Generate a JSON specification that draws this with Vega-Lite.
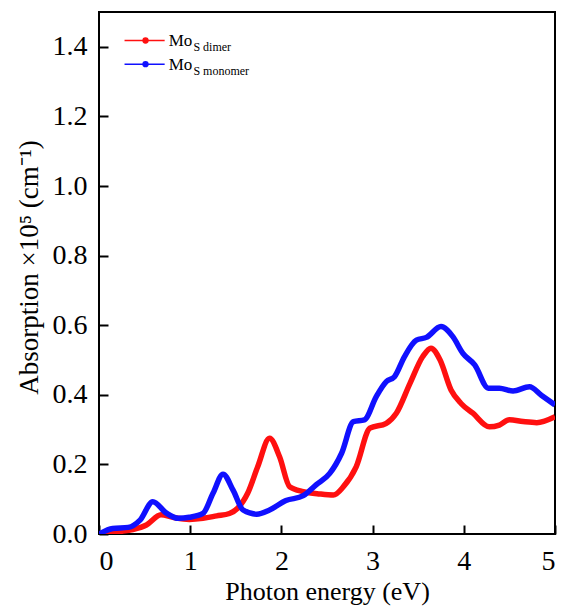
{
  "$schema": "https://vega.github.io/schema/vega-lite/v6.json",
  "autosize": "none",
  "width": 456,
  "height": 522,
  "padding": {"left": 99, "top": 12, "right": 9, "bottom": 73},
  "background": "white",
  "config": {
    "view": {"stroke": "black", "strokeWidth": 2},
    "font": "Liberation Serif",
    "axis": {
      "grid": false,
      "domain": false,
      "ticks": true,
      "tickColor": "black",
      "tickWidth": 2,
      "tickSize": -9,
      "labelFont": "Liberation Serif",
      "labelFontSize": 28,
      "labelColor": "black",
      "titleFont": "Liberation Serif",
      "titleFontWeight": "normal",
      "titleColor": "black"
    }
  },
  "datasets": {
    "curves": [
      {"e": 0.0, "a": 0.0, "s": "dimer"},
      {"e": 0.23, "a": 0.007, "s": "dimer"},
      {"e": 0.37, "a": 0.013, "s": "dimer"},
      {"e": 0.52, "a": 0.026, "s": "dimer"},
      {"e": 0.68, "a": 0.055, "s": "dimer"},
      {"e": 0.81, "a": 0.048, "s": "dimer"},
      {"e": 0.99, "a": 0.042, "s": "dimer"},
      {"e": 1.14, "a": 0.045, "s": "dimer"},
      {"e": 1.29, "a": 0.052, "s": "dimer"},
      {"e": 1.43, "a": 0.059, "s": "dimer"},
      {"e": 1.52, "a": 0.074, "s": "dimer"},
      {"e": 1.63, "a": 0.117, "s": "dimer"},
      {"e": 1.74, "a": 0.193, "s": "dimer"},
      {"e": 1.87, "a": 0.275, "s": "dimer"},
      {"e": 1.98, "a": 0.222, "s": "dimer"},
      {"e": 2.09, "a": 0.136, "s": "dimer"},
      {"e": 2.24, "a": 0.122, "s": "dimer"},
      {"e": 2.42, "a": 0.115, "s": "dimer"},
      {"e": 2.57, "a": 0.112, "s": "dimer"},
      {"e": 2.68, "a": 0.136, "s": "dimer"},
      {"e": 2.82, "a": 0.193, "s": "dimer"},
      {"e": 2.97, "a": 0.304, "s": "dimer"},
      {"e": 3.15, "a": 0.318, "s": "dimer"},
      {"e": 3.26, "a": 0.347, "s": "dimer"},
      {"e": 3.41, "a": 0.433, "s": "dimer"},
      {"e": 3.55, "a": 0.51, "s": "dimer"},
      {"e": 3.64, "a": 0.534, "s": "dimer"},
      {"e": 3.74, "a": 0.5, "s": "dimer"},
      {"e": 3.86, "a": 0.414, "s": "dimer"},
      {"e": 3.97, "a": 0.375, "s": "dimer"},
      {"e": 4.1, "a": 0.347, "s": "dimer"},
      {"e": 4.28, "a": 0.308, "s": "dimer"},
      {"e": 4.39, "a": 0.313, "s": "dimer"},
      {"e": 4.5, "a": 0.328, "s": "dimer"},
      {"e": 4.65, "a": 0.323, "s": "dimer"},
      {"e": 4.8, "a": 0.32, "s": "dimer"},
      {"e": 5.0, "a": 0.337, "s": "dimer"},
      {"e": 0.0, "a": 0.0, "s": "monomer"},
      {"e": 0.15, "a": 0.016, "s": "monomer"},
      {"e": 0.32, "a": 0.019, "s": "monomer"},
      {"e": 0.45, "a": 0.04, "s": "monomer"},
      {"e": 0.59, "a": 0.093, "s": "monomer"},
      {"e": 0.74, "a": 0.06, "s": "monomer"},
      {"e": 0.87, "a": 0.045, "s": "monomer"},
      {"e": 0.99, "a": 0.048, "s": "monomer"},
      {"e": 1.14, "a": 0.059, "s": "monomer"},
      {"e": 1.25, "a": 0.117, "s": "monomer"},
      {"e": 1.36, "a": 0.172, "s": "monomer"},
      {"e": 1.47, "a": 0.126, "s": "monomer"},
      {"e": 1.58, "a": 0.069, "s": "monomer"},
      {"e": 1.73, "a": 0.057, "s": "monomer"},
      {"e": 1.87, "a": 0.069, "s": "monomer"},
      {"e": 2.05, "a": 0.096, "s": "monomer"},
      {"e": 2.24, "a": 0.11, "s": "monomer"},
      {"e": 2.38, "a": 0.141, "s": "monomer"},
      {"e": 2.53, "a": 0.174, "s": "monomer"},
      {"e": 2.66, "a": 0.232, "s": "monomer"},
      {"e": 2.79, "a": 0.323, "s": "monomer"},
      {"e": 2.91, "a": 0.328, "s": "monomer"},
      {"e": 3.04, "a": 0.395, "s": "monomer"},
      {"e": 3.15, "a": 0.438, "s": "monomer"},
      {"e": 3.24, "a": 0.452, "s": "monomer"},
      {"e": 3.35, "a": 0.51, "s": "monomer"},
      {"e": 3.48, "a": 0.557, "s": "monomer"},
      {"e": 3.59, "a": 0.565, "s": "monomer"},
      {"e": 3.75, "a": 0.596, "s": "monomer"},
      {"e": 3.88, "a": 0.567, "s": "monomer"},
      {"e": 3.99, "a": 0.519, "s": "monomer"},
      {"e": 4.12, "a": 0.486, "s": "monomer"},
      {"e": 4.27, "a": 0.419, "s": "monomer"},
      {"e": 4.39, "a": 0.419, "s": "monomer"},
      {"e": 4.54, "a": 0.411, "s": "monomer"},
      {"e": 4.72, "a": 0.423, "s": "monomer"},
      {"e": 4.85, "a": 0.399, "s": "monomer"},
      {"e": 5.0, "a": 0.371, "s": "monomer"}
    ],
    "legend": [
      {"s": "dimer", "x1": 0.28, "x2": 0.72, "xm": 0.51, "y": 1.418, "xt": 0.764, "ys": 1.403, "sub": "S dimer", "xs": 1.035, "yb": 1.388},
      {"s": "monomer", "x1": 0.28, "x2": 0.72, "xm": 0.51, "y": 1.35, "xt": 0.764, "ys": 1.333, "sub": "S monomer", "xs": 1.035, "yb": 1.319}
    ]
  },
  "layer": [
    {
      "data": {"name": "curves"},
      "mark": {"type": "line", "strokeWidth": 5.5, "interpolate": "monotone", "clip": true},
      "encoding": {
        "x": {
          "field": "e", "type": "quantitative",
          "scale": {"domain": [0, 5], "nice": false},
          "axis": {"values": [0, 1, 2, 3, 4, 5], "format": "d", "title": "Photon energy (eV)", "labelFont": "Liberation Serif", "labelFontSize": 28, "titleFont": "Liberation Serif", "titleFontSize": 26, "labelPadding": 22, "titlePadding": 3}
        },
        "y": {
          "field": "a", "type": "quantitative",
          "scale": {"domain": [0, 1.5], "nice": false},
          "axis": {"values": [0, 0.2, 0.4, 0.6, 0.8, 1.0, 1.2, 1.4], "format": ".1f", "title": "Absorption ×10⁵ (cm⁻¹)", "labelFont": "Liberation Serif", "labelFontSize": 28, "titleFont": "Liberation Serif", "titleFontSize": 27, "labelPadding": 21, "titlePadding": 9, "titleY": 255}
        },
        "color": {
          "field": "s", "type": "nominal",
          "scale": {"domain": ["dimer", "monomer"], "range": ["#ff1010", "#1010ff"]},
          "legend": null
        },
        "order": {"field": "e", "type": "quantitative"}
      }
    },
    {
      "data": {"name": "legend"},
      "mark": {"type": "rule", "strokeWidth": 1.5},
      "encoding": {
        "x": {"field": "x1", "type": "quantitative"},
        "x2": {"field": "x2"},
        "y": {"field": "y", "type": "quantitative"},
        "color": {"field": "s", "type": "nominal", "legend": null}
      }
    },
    {
      "data": {"name": "legend"},
      "mark": {"type": "point", "filled": true, "size": 40, "opacity": 1},
      "encoding": {
        "x": {"field": "xm", "type": "quantitative"},
        "y": {"field": "y", "type": "quantitative"},
        "color": {"field": "s", "type": "nominal", "legend": null}
      }
    },
    {
      "data": {"name": "legend"},
      "mark": {"type": "text", "text": "Mo", "align": "left", "baseline": "alphabetic", "fontSize": 17, "font": "Liberation Serif", "color": "black"},
      "encoding": {
        "x": {"field": "xt", "type": "quantitative"},
        "y": {"field": "ys", "type": "quantitative"}
      }
    },
    {
      "data": {"name": "legend"},
      "mark": {"type": "text", "align": "left", "baseline": "alphabetic", "fontSize": 12, "font": "Liberation Serif", "color": "black"},
      "encoding": {
        "x": {"field": "xs", "type": "quantitative"},
        "y": {"field": "yb", "type": "quantitative"},
        "text": {"field": "sub"}
      }
    }
  ]
}
